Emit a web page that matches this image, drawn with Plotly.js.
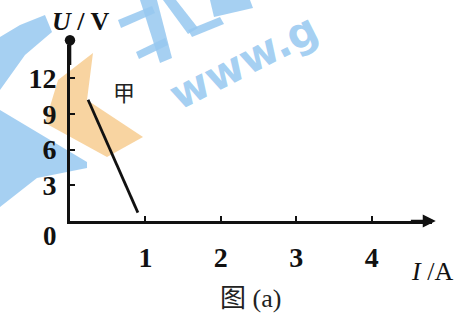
<!DOCTYPE html>
<html>
<head>
<meta charset="utf-8">
<script src="https://cdn.plot.ly/plotly-3.0.1.min.js"></script>
<style>
  html, body { margin: 0; padding: 0; background: #fff; }
  #plot { width: 459px; height: 325px; }
</style>
</head>
<body>
<div id="plot"></div>
<script>
// values
const lineI = [0.24, 0.9];      // I/A
const lineU = [10.2, 0.7];      // U/V
const xTicks = [1, 2, 3, 4];
const yTicks = [3, 6, 9, 12];
const lineName = '甲';

const serif = 'Liberation Serif, DejaVu Serif, serif';
const cjk = 'Liberation Serif, Noto Sans CJK SC, serif';

// plot box in pixels (used only for the watermark decoration)
const box = { l: 70, r: 27, t: 45, b: 104, w: 459, h: 325 };
const pw = box.w - box.l - box.r;
const ph = box.h - box.t - box.b;
const px2paper = (x, y) => [(x - box.l) / pw, (box.h - box.b - y) / ph];
const toPath = (pts) => 'M ' + pts.map(p => {
  const q = px2paper(p[0], p[1]);
  return q[0].toFixed(4) + ' ' + q[1].toFixed(4);
}).join(' L ') + ' Z';

const wmBlue = 'rgba(150,200,240,0.85)';
const wmOrange = 'rgba(247,205,145,0.85)';
const wmPolys = [
  [wmBlue, [[0, 37], [20, 25], [45, 15], [52, 32], [25, 55], [0, 90]]],
  [wmBlue, [[0, 110], [87, 162], [87, 168], [37, 178], [0, 207]]],
  [wmBlue, [[140, 0], [157, 0], [172, 58], [160, 63]]],
  [wmBlue, [[118, 20], [152, 6], [155, 13], [121, 28]]],
  [wmBlue, [[136, 52], [165, 38], [168, 45], [139, 59]]],
  [wmBlue, [[163, 0], [176, 0], [198, 28], [188, 34]]],
  [wmBlue, [[188, 30], [220, 17], [224, 24], [192, 37]]],
  [wmBlue, [[210, 0], [250, 0], [253, 8], [214, 17]]],
  [wmOrange, [[93, 53], [87, 100], [143, 137], [107, 157], [45, 123], [58, 80]]]
];
const wmTextPos = px2paper(244, 62);

const trace = {
  x: lineI,
  y: lineU,
  mode: 'lines',
  line: { color: '#111', width: 2.8 },
  name: lineName,
  hoverinfo: 'skip'
};

const layout = {
  width: 459,
  height: 325,
  margin: { l: box.l, r: box.r, t: box.t, b: box.b },
  paper_bgcolor: '#fff',
  plot_bgcolor: 'rgba(0,0,0,0)',
  showlegend: false,
  font: { family: serif, color: '#111', size: 18 },
  xaxis: {
    range: [0, 4.8],
    tickvals: xTicks,
    ticktext: xTicks.map(String),
    ticks: 'inside',
    ticklen: 5,
    tickwidth: 2,
    tickcolor: '#111',
    showgrid: false,
    zeroline: false,
    showline: true,
    linecolor: '#111',
    linewidth: 2.8,
    tickfont: { family: serif, size: 28, color: '#111', weight: 'bold' },
    ticklabelstandoff: 10,
    fixedrange: true
  },
  yaxis: {
    range: [0, 14.8],
    tickvals: yTicks,
    ticktext: yTicks.map(String),
    ticks: 'inside',
    ticklen: 5,
    tickwidth: 2,
    tickcolor: '#111',
    showgrid: false,
    zeroline: false,
    showline: true,
    linecolor: '#111',
    linewidth: 2.8,
    tickfont: { family: serif, size: 28, color: '#111', weight: 'bold' },
    ticklabelstandoff: 5,
    fixedrange: true
  },
  shapes: wmPolys.map(([c, pts]) => ({
    type: 'path', xref: 'paper', yref: 'paper', layer: 'below',
    path: toPath(pts), fillcolor: c, line: { width: 0 }
  })),
  annotations: [
    // axis arrows
    { x: 4.85, y: 0, ax: 4.5, ay: 0, xref: 'x', yref: 'y', axref: 'x', ayref: 'y',
      showarrow: true, arrowhead: 2, arrowsize: 1, arrowwidth: 2.6, arrowcolor: '#111', text: '' },
    { x: 0, y: 15.2, ax: 0, ay: 13, xref: 'x', yref: 'y', axref: 'x', ayref: 'y',
      showarrow: true, arrowhead: 6, arrowsize: 1, arrowwidth: 2.6, arrowcolor: '#111', text: '' },
    // origin label
    { x: 0, y: 0, xref: 'x', yref: 'y', xanchor: 'right', yanchor: 'top', xshift: -11, yshift: 2,
      text: '<b>0</b>', showarrow: false, font: { family: serif, size: 27, color: '#111' } },
    // axis titles
    { x: 0, y: 1, xref: 'x', yref: 'paper', xanchor: 'center', yanchor: 'middle', yshift: 24, xshift: 11,
      text: '<b><i>U</i> / V</b>', showarrow: false, font: { family: serif, size: 26, color: '#111' } },
    { x: 1, y: 0, xref: 'paper', yref: 'paper', xanchor: 'center', yanchor: 'middle', yshift: -50, xshift: 0,
      text: '<i>I</i> /A', showarrow: false, font: { family: serif, size: 26, color: '#111' } },
    // line label
    { x: 0.72, y: 10.75, xref: 'x', yref: 'y', text: lineName, showarrow: false,
      font: { family: cjk, size: 22, color: '#222' } },
    // caption
    { x: (250 - box.l) / pw, y: 0, xref: 'paper', yref: 'paper', xanchor: 'center', yanchor: 'middle', yshift: -77,
      text: '图 (a)', showarrow: false, font: { family: cjk, size: 26, color: '#222' } },
    // watermark text
    { x: wmTextPos[0], y: wmTextPos[1], xref: 'paper', yref: 'paper', xanchor: 'center', yanchor: 'middle',
      text: '<b>www.g</b>', showarrow: false, textangle: -27,
      font: { family: 'DejaVu Sans, sans-serif', size: 42, color: wmBlue } }
  ]
};

Plotly.newPlot('plot', [trace], layout, { displayModeBar: false, staticPlot: true });
</script>
</body>
</html>
